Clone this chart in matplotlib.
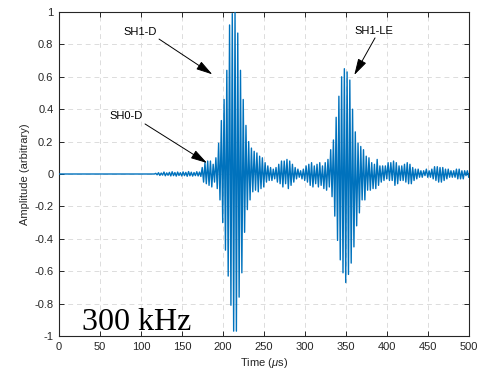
import numpy as np
import matplotlib
matplotlib.use("Agg")
import matplotlib.pyplot as plt

plt.rcParams["font.family"] = ["Liberation Sans", "DejaVu Sans"]
plt.rcParams["axes.unicode_minus"] = False
plt.rcParams["mathtext.fontset"] = "custom"
plt.rcParams["mathtext.it"] = "Liberation Sans:italic"

# Received waveform, 300 kHz excitation: per-cycle positive peaks and
# negative troughs, starting at the first arrival of noise.
signal_start_us = 118.0
period_us = 1000.0 / 300.0  # 300 kHz

peaks_pos = [
    0.004, 0.008, 0.006, 0.012, 0.007, 0.010, 0.014, 0.009, 0.012, 0.008,
    0.013, 0.010, 0.015, 0.011, 0.009, 0.014, 0.012, 0.04, 0.07, 0.08,
    0.08, 0.06, 0.10, 0.19, 0.33, 0.46, 0.64, 0.92, 0.99, 1.00,
    0.87, 0.64, 0.46, 0.30, 0.20, 0.16, 0.14, 0.13, 0.11, 0.10,
    0.07, 0.05, 0.04, 0.03, 0.04, 0.06, 0.08, 0.08, 0.09, 0.08,
    0.06, 0.04, 0.03, 0.02, 0.03, 0.05, 0.06, 0.07, 0.05, 0.06,
    0.07, 0.05, 0.07, 0.09, 0.15, 0.21, 0.35, 0.48, 0.60, 0.65,
    0.63, 0.58, 0.40, 0.26, 0.19, 0.17, 0.15, 0.11, 0.10, 0.07,
    0.06, 0.09, 0.05, 0.05, 0.05, 0.07, 0.07, 0.08, 0.07, 0.05,
    0.05, 0.06, 0.07, 0.06, 0.04, 0.03, 0.03, 0.02, 0.02, 0.03,
    0.02, 0.03, 0.045, 0.045, 0.04, 0.04, 0.03, 0.03, 0.02, 0.02,
    0.03, 0.03, 0.02, 0.02, 0.02,
]
peaks_neg = [
    -0.005, -0.009, -0.007, -0.011, -0.008, -0.012, -0.010, -0.013, -0.009, -0.012,
    -0.010, -0.014, -0.011, -0.013, -0.010, -0.012, -0.015, -0.05, -0.06, -0.07,
    -0.08, -0.05, -0.09, -0.16, -0.30, -0.47, -0.63, -0.81, -0.97, -0.97,
    -0.76, -0.61, -0.36, -0.22, -0.16, -0.11, -0.10, -0.11, -0.09, -0.08,
    -0.05, -0.04, -0.04, -0.03, -0.05, -0.06, -0.08, -0.06, -0.09, -0.07,
    -0.05, -0.03, -0.02, -0.03, -0.04, -0.05, -0.07, -0.08, -0.06, -0.08,
    -0.07, -0.09, -0.10, -0.08, -0.14, -0.26, -0.41, -0.53, -0.61, -0.67,
    -0.62, -0.55, -0.45, -0.32, -0.24, -0.16, -0.16, -0.10, -0.10, -0.09,
    -0.09, -0.07, -0.05, -0.04, -0.03, -0.04, -0.04, -0.07, -0.06, -0.04,
    -0.04, -0.05, -0.06, -0.06, -0.04, -0.03, -0.02, -0.02, -0.01, -0.02,
    -0.02, -0.03, -0.04, -0.05, -0.05, -0.04, -0.03, -0.02, -0.02, -0.02,
    -0.03, -0.03, -0.03, -0.01, -0.02,
]

x_ticks = [0, 50, 100, 150, 200, 250, 300, 350, 400, 450, 500]
y_ticks = [-1, -0.8, -0.6, -0.4, -0.2, 0, 0.2, 0.4, 0.6, 0.8, 1]
y_tick_labels = ["-1", "-0.8", "-0.6", "-0.4", "-0.2", "0",
                 "0.2", "0.4", "0.6", "0.8", "1"]

# Assemble the time trace: flat before the signal, then peak/trough pairs.
n_cycles = len(peaks_pos)
cycle_t = signal_start_us + period_us * np.arange(n_cycles)
t = np.empty(2 * n_cycles)
a = np.empty(2 * n_cycles)
t[0::2] = cycle_t
t[1::2] = cycle_t + period_us / 2
a[0::2] = peaks_pos
a[1::2] = peaks_neg
t = np.concatenate(([0.0, signal_start_us - period_us / 2], t, [500.0]))
a = np.concatenate(([0.0, 0.0], a, [0.0]))

fig = plt.figure(figsize=(4.82, 3.80), dpi=100)
ax = fig.add_axes([59 / 482, 44 / 380, 410 / 482, 324 / 380])

ax.plot(t, a, color="#0072BD", lw=1.0, zorder=3)

ax.set_xlim(0, 500)
ax.set_ylim(-1, 1)
ax.set_xticks(x_ticks)
ax.set_yticks(y_ticks)
ax.set_yticklabels(y_tick_labels)
ax.grid(True, color="#dcdcdc", linestyle=(0, (5, 4)), linewidth=0.7, zorder=0)
ax.tick_params(direction="in", length=3.5, width=0.7, top=True, right=True,
               labelsize=8, colors="#262626", pad=4)
for s in ax.spines.values():
    s.set_linewidth(0.8)
    s.set_color("#262626")

ax.set_xlabel(r"Time ($\mu$s)", fontsize=8, color="#262626", labelpad=3)
ax.set_ylabel("Amplitude (arbitrary)", fontsize=8, color="#262626", labelpad=3)

ax.text(28, -0.965, "300 kHz", family="Liberation Serif", fontsize=23,
        ha="left", va="baseline", color="black")

arrow_kw = dict(arrowstyle="-|>,head_length=1.0,head_width=0.28",
                color="black", lw=0.7, shrinkA=0, shrinkB=0,
                mutation_scale=10)
ax.annotate("", xy=(187, 0.615), xytext=(122, 0.833), arrowprops=arrow_kw)
ax.text(98.8, 0.877, "SH1-D", fontsize=8, ha="center", va="center")
ax.annotate("", xy=(180.5, 0.068), xytext=(104.9, 0.309), arrowprops=arrow_kw)
ax.text(81.7, 0.358, "SH0-D", fontsize=8, ha="center", va="center")
ax.annotate("", xy=(360.1, 0.611), xytext=(385.4, 0.84), arrowprops=arrow_kw)
ax.text(384.1, 0.883, "SH1-LE", fontsize=8, ha="center", va="center")

fig.savefig("out.png", dpi=100)
